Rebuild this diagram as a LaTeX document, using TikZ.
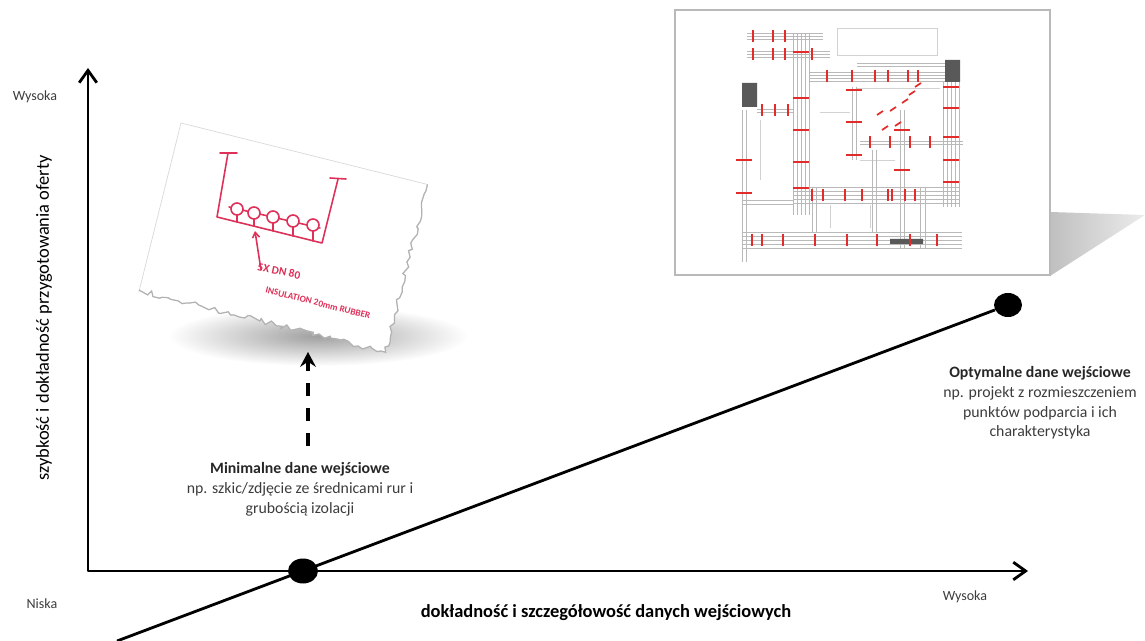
\documentclass[tikz,border=0pt]{standalone}
\usepackage{fontspec}
\setmainfont{Carlito}
\usetikzlibrary{arrows.meta,positioning,shapes.geometric,decorations.pathmorphing}
\definecolor{sketchred}{RGB}{222,48,88}
\definecolor{planred}{RGB}{226,44,44}
\definecolor{txtgray}{RGB}{60,60,60}

\begin{document}
\begin{tikzpicture}[x=0.02cm,y=-0.02cm,align=center]
\tikzstyle{axis}=[line width=1.6pt,line join=round,{Straight Barb[length=7pt,width=10pt]}-{Straight Barb[length=7pt,width=10pt]}]
\tikzstyle{trend}=[line width=1.6pt]
\tikzstyle{point}=[ellipse,fill=black,inner sep=0pt,minimum width=0.6cm,minimum height=0.5cm]
\tikzstyle{hint}=[-{Stealth[length=8.5pt,width=9pt,inset=3pt]},line width=1.8pt,dash pattern=on 7.4pt off 6.8pt]
\tikzstyle{level}=[font=\fontsize{8}{10}\selectfont,text=txtgray]
\tikzstyle{caption}=[font=\fontsize{9}{11.3}\selectfont,text=txtgray]
\tikzstyle{pen}=[sketchred,line width=0.9pt,line cap=round,line join=round]
\tikzstyle{handtxt}=[sketchred,inner sep=0pt,font=\bfseries\fontsize{6.5}{7}\selectfont]
\tikzstyle{pipe}=[gray!55,line width=0.3pt]
\tikzstyle{room}=[gray!35,line width=0.3pt]
\tikzstyle{tick}=[planred,line width=1pt]

\useasboundingbox (0,0) rectangle (1145,641);

% sketch on torn paper
\shade[inner color=gray!75,outer color=white] (318,336) ellipse [x radius=150, y radius=30];
\begin{scope}[shift={(181,123)},rotate=-14]
  \pgfmathsetseed{11}
  \path[fill=white,draw=gray!30,line width=0.4pt] (0,0) -- (254,0)
    decorate[decoration={random steps,segment length=2.6pt,amplitude=1.6pt}]{-- (254,173) -- (0,173)} -- cycle;
  \pgfmathsetseed{11}
  \draw[gray!60,line width=0.7pt] (254,0)
    decorate[decoration={random steps,segment length=2.6pt,amplitude=1.6pt}]{-- (254,173) -- (0,173)};
\end{scope}
\draw[pen] (220,153) -- (237,153) (228,153) -- (217,217) -- (322,243) -- (338,179) (330,178) -- (346,179);
\draw[pen] (229,207) -- (320,228);
\foreach \cx/\cy/\ly in {237/209/222,254/213/226,273/217/231,293/221/236,313/225/241}{
  \draw[pen,fill=white] (\cx,\cy) circle [radius=6];
  \draw[pen] (\cx,\cy+6) -- (\cx,\ly);
}
\draw[pen,-{Straight Barb[length=3pt,width=4pt]}] (261,270) -- (255,231);
\node[handtxt,rotate=-12] (qty) at (279,271) {5X DN 80};
\node[handtxt,rotate=-14,font=\bfseries\fontsize{5.3}{6}\selectfont] (ins) at (318,303) {INSULATION 20mm RUBBER};

% plan drawing
\shade[left color=gray!50,right color=gray!15] (1050,212) -- (1145,215) -- (1050,276) -- cycle;
\draw[gray!55,fill=white,line width=0.6pt] (675,10) rectangle (1050,275);
\draw[room] (837,28) rectangle (937,55) (857,88) -- (940,88) (820,112) -- (850,112) (860,160) -- (895,160)
  (760,120) -- (760,180) (830,205) -- (830,228) (870,205) -- (870,228);
\foreach \y in {33,36,39} \draw[pipe] (747,\y) -- (823,\y);
\foreach \y in {51,54,57} \draw[pipe] (747,\y) -- (830,\y);
\foreach \y in {72,75,78,81} \draw[pipe] (810,\y) -- (945,\y);
\foreach \y in {63,66} \draw[pipe] (857,\y) -- (945,\y);
\foreach \y in {109,112} \draw[pipe] (757,\y) -- (793,\y);
\foreach \y in {141,144} \draw[pipe] (860,\y) -- (963,\y);
\foreach \y in {187,191,195,199,203} \draw[pipe] (793,\y) -- (960,\y);
\foreach \y in {232,236,240,244,248} \draw[pipe] (742,\y) -- (962,\y);
\foreach \y in {200,204} \draw[pipe] (742,\y) -- (793,\y);
\foreach \x in {793,797,801,805,809} \draw[pipe] (\x,33) -- (\x,215);
\foreach \x in {943,947,951,955,959} \draw[pipe] (\x,82) -- (\x,207);
\foreach \x in {852,856} \draw[pipe] (\x,87) -- (\x,160);
\foreach \x in {900,904} \draw[pipe] (\x,110) -- (\x,248);
\foreach \x in {742,746} \draw[pipe] (\x,110) -- (\x,262);
\foreach \x in {812,816} \draw[pipe] (\x,187) -- (\x,232);
\foreach \x in {872,876} \draw[pipe] (\x,150) -- (\x,232);
\foreach \x in {920,925} \draw[pipe] (\x,187) -- (\x,248);
\fill[gray!70!black] (742,83) rectangle (757,107) (945,60) rectangle (960,82) (890,239) rectangle (923,244);
\foreach \x/\y in {753/36,773/36,785/36,753/54,773/54,785/54,812/54,
  827/76,852/76,875/76,888/76,908/76,918/76,
  752/240,762/240,783/240,815/240,847/240,877/240,910/240,937/240,
  812/195,823/195,845/195,862/195,888/195,892/195,905/195,915/195,
  762/110,775/110,788/110,870/142,890/142,910/142,930/142}
  \draw[tick] (\x,\y-6) -- (\x,\y+6);
\foreach \x/\y in {801/52,801/98,801/130,801/162,801/188,
  951/87,951/108,951/137,951/160,951/182,
  854/90,854/122,854/155,744/160,744/193,902/130,902/170}
  \draw[tick] (\x-8,\y) -- (\x+8,\y);
\foreach \x/\y in {880/113,893/109,905/101,912/93,918/85,885/128,898/124}
  \draw[tick] (\x-3,\y+2) -- (\x+3,\y-2);

% axes and trend
\coordinate (ytop) at (88,68);
\coordinate (orig) at (88,571);
\coordinate (xend) at (1028,571);
\draw[axis] (ytop) -- (orig) -- (xend);
\node[point] (lo) at (303,571) {};
\node[point,minimum width=0.56cm,minimum height=0.48cm] (hi) at (1008,305) {};
\coordinate (tail) at (117,641);
\draw[trend] (tail) -- (hi);

\node[level] (ywys) at (35,97) {Wysoka};
\node[level] (ynis) at (42,604) {Niska};
\node[level] (xwys) at (965,597) {Wysoka};
\node[font=\fontsize{10.5}{12}\selectfont,rotate=90] (ytitle) at (44,318) {szybkość i dokładność przygotowania oferty};
\node[font=\bfseries\fontsize{10.5}{12}\selectfont] (xtitle) at (606,613) {dokładność i szczegółowość danych wejściowych};

% captions
\node[caption,anchor=north] (minlbl) at (300,456) {\textbf{\color{black!85}Minimalne dane wejściowe}\\np. szkic/zdjęcie ze średnicami rur i\\grubością izolacji};
\node[caption,anchor=north] (optlbl) at (1040,360) {\textbf{\color{black!85}Optymalne dane wejściowe}\\np. projekt z rozmieszczeniem\\punktów podparcia i ich\\charakterystyka};
\coordinate (minbase) at (308,446);
\coordinate (mintip) at (308,352);
\draw[hint] (minbase) -- (mintip);
\end{tikzpicture}
\end{document}
